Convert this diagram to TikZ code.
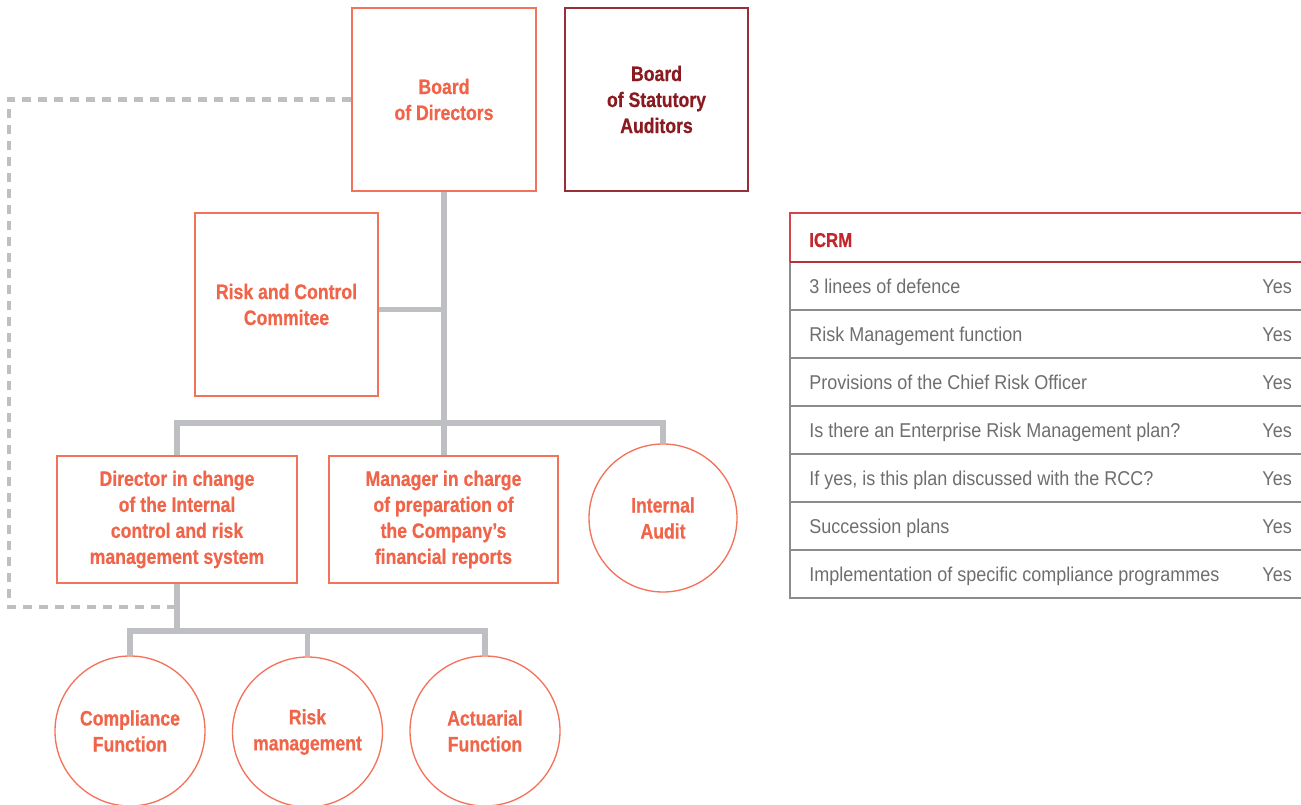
\documentclass[tikz,border=0pt]{standalone}
\usepackage{fontspec}
\setmainfont{Liberation Sans}
\newfontfamily\boldc[FakeStretch=0.84,FakeBold=0.6]{Liberation Sans Bold}
\newfontfamily\regc[FakeStretch=0.9]{Liberation Sans}
\usetikzlibrary{calc}
\definecolor{coral}{HTML}{F0654A}
\definecolor{coralline}{HTML}{F2735A}
\definecolor{darkred}{HTML}{8A1A20}
\definecolor{darkredline}{HTML}{963038}
\definecolor{conn}{HTML}{BEBFC2}
\definecolor{txtgray}{HTML}{6D6E71}
\definecolor{rowline}{HTML}{8C8C8C}
\definecolor{icrm}{HTML}{C2272D}
\definecolor{hdrtop}{HTML}{D2464B}
\definecolor{hdrbot}{HTML}{B0343A}
\tikzset{
  lbl/.style={font=\boldc\fontsize{15.75pt}{19.5pt}\selectfont, align=center, inner sep=0pt},
  obox/.style={lbl, draw=coralline, line width=1.1pt, text=coral, rectangle},
  dbox/.style={lbl, draw=darkredline, line width=1.1pt, text=darkred, rectangle},
  ocirc/.style={lbl, draw=coralline, line width=1pt, text=coral, circle},
  conn/.style={draw=conn, line width=4pt},
  dashconn/.style={draw=conn, line width=3.5pt, dash pattern=on 6.75pt off 5.25pt},
  rowtxt/.style={font=\regc\fontsize{15pt}{18pt}\selectfont, text=txtgray, inner sep=0pt},
  hdrtxt/.style={font=\boldc\fontsize{15pt}{18pt}\selectfont, text=icrm, inner sep=0pt},
}
\begin{document}
\begin{tikzpicture}[x=0.75pt,y=-0.75pt]
\useasboundingbox (0,0) rectangle (1301,805);
% boxes
\node[obox, minimum width=138pt, minimum height=137.25pt] (bod) at (444,99.5) {Board\\of Directors};
\node[dbox, minimum width=137.25pt, minimum height=137.25pt] (bsa) at (656.5,99.5) {Board\\of Statutory\\Auditors};
\node[obox, minimum width=137.25pt, minimum height=137.25pt] (rcc) at (286.5,304.5) {Risk and Control\\Commitee};
\node[obox, minimum width=180pt, minimum height=95.25pt] (dir) at (177,519.5) {Director in change\\of the Internal\\control and risk\\management system};
\node[obox, minimum width=171.75pt, minimum height=95.25pt] (mgr) at (443.5,519.5) {Manager in charge\\of preparation of\\the Company’s\\financial reports};
\node[ocirc, minimum size=111pt] (ia) at (663,518) {Internal\\Audit};
\node[ocirc, minimum size=112.5pt] (comp) at (130,731) {Compliance\\Function};
\node[ocirc, minimum size=112.5pt] (rm) at (307.5,732) {Risk\\management};
\node[ocirc, minimum size=112.5pt] (act) at (485,731) {Actuarial\\Function};
% junctions
\coordinate (j1) at (444,423);
\coordinate (j2) at (176,631);
\coordinate (d1) at (9,99.5);
\coordinate (d2) at (9,607);
% connectors
\draw[conn] (bod.south) -- (bod.south |- mgr.north);
\draw[conn] ([yshift=-3.75pt]rcc.east) -- ([yshift=-3.75pt]rcc.east -| bod.south);
\draw[conn] (dir.north) -- (dir.north |- j1) -- (ia.north |- j1) -- (ia.north);
\draw[conn] (dir.south) -- (dir.south |- j2);
\draw[conn] (comp.north) -- (comp.north |- j2) -- (act.north |- j2) -- (act.north);
\draw[conn] (rm.north) -- (rm.north |- j2);
\draw[dashconn] (bod.west) -- (d1) -- (d2) -- (d2 -| dir.south);
% table
\coordinate (tl) at (790,213);
\draw[rowline, line width=1pt] (790,262) -- (790,598) -- (1301,598);
\foreach \y in {310,358,406,454,502,550} \draw[rowline, line width=1pt] (790,\y) -- (1301,\y);
\draw[hdrtop, line width=1pt] (790,262) -- (tl) -- (1301,213);
\draw[hdrbot, line width=1.2pt] (790,262) -- (1301,262);
\node[hdrtxt, anchor=base west] (h) at (809,247) {ICRM};
\node[rowtxt, anchor=base west] (r1) at (809,293.5) {3 linees of defence};
\node[rowtxt, anchor=base west] (r2) at (809,341.5) {Risk Management function};
\node[rowtxt, anchor=base west] (r3) at (809,389.5) {Provisions of the Chief Risk Officer};
\node[rowtxt, anchor=base west] (r4) at (809,437.5) {Is there an Enterprise Risk Management plan?};
\node[rowtxt, anchor=base west] (r5) at (809,485.5) {If yes, is this plan discussed with the RCC?};
\node[rowtxt, anchor=base west] (r6) at (809,533.5) {Succession plans};
\node[rowtxt, anchor=base west] (r7) at (809,581.5) {Implementation of specific compliance programmes};
\foreach \i/\y in {1/293.5,2/341.5,3/389.5,4/437.5,5/485.5,6/533.5,7/581.5}
  \node[rowtxt, anchor=base east] (y\i) at (1292,\y) {Yes};
\end{tikzpicture}
\end{document}
